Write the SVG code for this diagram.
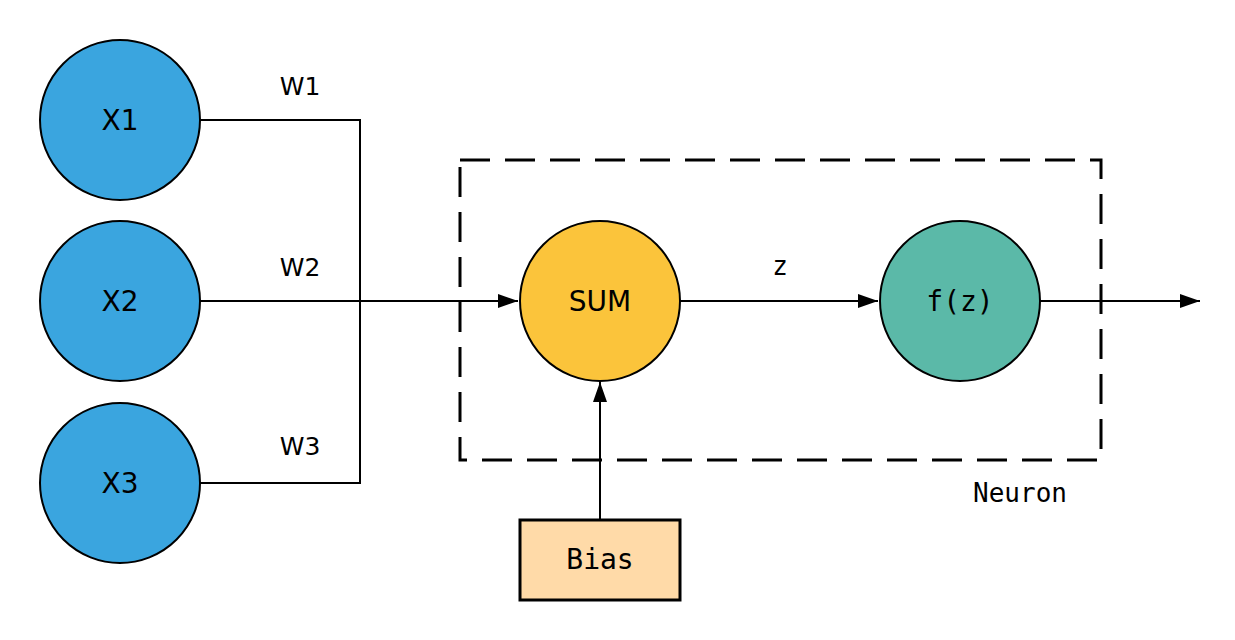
<svg xmlns="http://www.w3.org/2000/svg" width="1235" height="640" viewBox="0 0 1235 640">
<defs>
<marker id="arr" viewBox="0 0 20 14" refX="20" refY="7" markerWidth="20" markerHeight="14" markerUnits="userSpaceOnUse" orient="auto">
<path d="M0,0 L20,7 L0,14 Z" fill="#000"/>
</marker>
</defs>
<style>
.node{stroke:#000;stroke-width:2}
.lbl{font-family:"DejaVu Sans",Verdana,sans-serif;font-size:28px;fill:#000;text-anchor:middle}
.mono{font-family:"DejaVu Sans Mono","Liberation Mono",monospace;font-size:28px;fill:#000;text-anchor:middle}
.small{font-family:"DejaVu Sans",sans-serif;font-size:25px;fill:#000;text-anchor:middle}
.smono{font-family:"DejaVu Sans Mono",monospace;font-size:26px;fill:#000;text-anchor:middle}
.conn{fill:none;stroke:#000;stroke-width:2}
</style>
<rect width="1235" height="640" fill="#fff"/>
<g id="neuron-box">
<rect x="460" y="160" width="641" height="300" fill="none" stroke="#000" stroke-width="3" stroke-dasharray="30,15"/>
<text class="smono" x="1020" y="502">Neuron</text>
</g>
<g id="connectors">
<path class="conn" d="M200,120 H360 V483 H200"/>
<path class="conn" d="M200,301 H518" marker-end="url(#arr)"/>
<path class="conn" d="M680,301 H878" marker-end="url(#arr)"/>
<path class="conn" d="M1040,301 H1200" stroke-width="3" marker-end="url(#arr)"/>
<path class="conn" d="M600,520 V382" stroke-width="3" marker-end="url(#arr)"/>
<text class="small" x="300" y="95">W1</text>
<text class="small" x="300" y="276">W2</text>
<text class="small" x="300" y="455">W3</text>
<text class="smono" x="780" y="275">z</text>
</g>
<g id="x1"><circle class="node" cx="120" cy="120" r="80" fill="#3AA5DF"/><text class="lbl" x="120" y="130">X1</text></g>
<g id="x2"><circle class="node" cx="120" cy="301" r="80" fill="#3AA5DF"/><text class="lbl" x="120" y="311">X2</text></g>
<g id="x3"><circle class="node" cx="120" cy="483" r="80" fill="#3AA5DF"/><text class="lbl" x="120" y="493">X3</text></g>
<g id="sum"><circle class="node" cx="600" cy="301" r="80" fill="#FBC43B"/><text class="lbl" x="600" y="311">SUM</text></g>
<g id="fz"><circle class="node" cx="960" cy="301" r="80" fill="#5BB9A8"/><text class="mono" x="960" y="311">f(z)</text></g>
<g id="bias"><rect x="520" y="520" width="160" height="80" fill="#FFDAA8" stroke="#000" stroke-width="3"/><text class="mono" x="600" y="569">Bias</text></g>
</svg>
